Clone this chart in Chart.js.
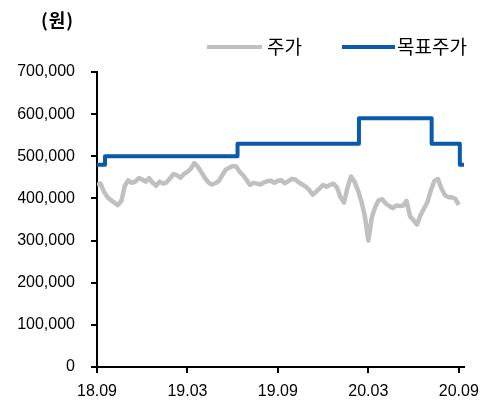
<!DOCTYPE html>
<html>
<head>
<meta charset="utf-8">
<script src="https://cdn.jsdelivr.net/npm/chart.js@4.4.1/dist/chart.umd.min.js"></script>
<style>
  html, body { margin: 0; padding: 0; background: #fff; }
  #wrap { width: 482px; height: 405px; position: relative; }
</style>
</head>
<body>
<div id="wrap"><canvas id="priceChart"></canvas></div>
<script>
// x axis is in weeks from 2018-09
var tickWeeks = [0, 26, 52, 78, 104];
var tickLabels = ["18.09", "19.03", "19.09", "20.03", "20.09"];
var yTicks = [0, 100000, 200000, 300000, 400000, 500000, 600000, 700000];

// 주가, weekly
var prices = [
  432000, 435000, 416000, 403000, 396000, 390000, 384000, 394000, 430000, 443000,
  437000, 440000, 448000, 445000, 440000, 448000, 437000, 430000, 440000, 435000,
  438000, 448000, 458000, 455000, 449000, 458000, 463000, 471000, 484000, 475000,
  462000, 449000, 438000, 433000, 436000, 441000, 455000, 468000, 473000, 477000,
  476000, 463000, 455000, 444000, 432000, 437000, 435000, 433000, 438000, 441000,
  442000, 437000, 442000, 443000, 436000, 441000, 446000, 445000, 438000, 433000,
  428000, 420000, 409000, 416000, 424000, 432000, 428000, 432000, 435000, 426000,
  403000, 390000, 425000, 452000, 440000, 420000, 393000, 358000, 300000, 355000,
  380000, 396000, 398000, 388000, 382000, 377000, 383000, 382000, 383000, 394000,
  357000, 348000, 338000, 360000, 376000, 392000, 420000, 442000, 446000, 424000,
  408000, 403000, 403000, 399000, 385000
];

// 목표주가 (step changes)
var targetWeeks = [0, 2.3, 40.4, 75.3, 96.2, 104.3, 105.3];
var targetValues = [480000, 500000, 530000, 590000, 530000, 480000, 480000];

var FONT = "'Liberation Sans', Arial, sans-serif";
var KFONT = "'Noto Sans CJK KR', 'Liberation Sans', sans-serif";

// unit text and legend drawn by hand so they sit where the original has them
var extras = {
  id: "extras",
  afterDraw: function (chart) {
    var c = chart.ctx;
    var ds = chart.data.datasets;
    var legendPos = [[207, 262, 267], [342, 395, 397]];
    c.save();
    c.fillStyle = "#000";
    c.textBaseline = "middle";
    c.font = "bold 18px " + KFONT;
    c.letterSpacing = "1px";
    c.fillText("(원)", 41, 20);
    c.letterSpacing = "0px";
    c.font = "19px " + KFONT;
    ds.forEach(function (d, i) {
      var p = legendPos[i];
      c.strokeStyle = d.borderColor;
      c.lineWidth = 4;
      c.beginPath();
      c.moveTo(p[0], 47);
      c.lineTo(p[1], 47);
      c.stroke();
      c.fillStyle = "#000";
      c.fillText(d.label, p[2], 47);
    });
    c.restore();
  }
};

var ctx = document.getElementById("priceChart");
var priceChart = new Chart(ctx, {
  type: "line",
  data: {
    datasets: [
      {
        label: "주가",
        data: prices.map(function (v, i) { return { x: i, y: v }; }),
        borderColor: "#c0c0c0",
        backgroundColor: "#c0c0c0",
        borderWidth: 4.5,
        pointRadius: 0,
        tension: 0,
        borderJoinStyle: "round"
      },
      {
        label: "목표주가",
        data: targetWeeks.map(function (w, i) { return { x: w, y: targetValues[i] }; }),
        borderColor: "#0a5aaa",
        backgroundColor: "#0a5aaa",
        borderWidth: 4,
        pointRadius: 0,
        stepped: true,
        borderCapStyle: "round",
        borderJoinStyle: "round"
      }
    ]
  },
  options: {
    responsive: true,
    maintainAspectRatio: false,
    animation: false,
    layout: { padding: { top: 72, left: 18, right: 18, bottom: 0 } },
    plugins: {
      tooltip: { enabled: false },
      legend: { display: false }
    },
    scales: {
      x: {
        type: "linear",
        min: 0,
        max: 105.5,
        afterBuildTicks: function (axis) {
          axis.ticks = tickWeeks.map(function (w) { return { value: w }; });
        },
        afterFit: function (axis) {
          axis.height = 38;
          axis.paddingLeft = 0;
          axis.paddingRight = 0;
        },
        ticks: {
          color: "#000",
          font: { family: FONT, size: 16 },
          padding: 9,
          maxRotation: 0,
          callback: function (value) {
            var k = tickWeeks.indexOf(value);
            return k >= 0 ? tickLabels[k] : "";
          }
        },
        grid: { drawOnChartArea: false, drawTicks: true, tickLength: 6, color: "#000", lineWidth: 2 },
        border: { color: "#000", width: 2 }
      },
      y: {
        min: 0,
        max: 700000,
        afterBuildTicks: function (axis) {
          axis.ticks = yTicks.map(function (v) { return { value: v }; });
        },
        afterFit: function (axis) {
          axis.width = 79;
          axis.paddingTop = 0;
          axis.paddingBottom = 0;
        },
        ticks: {
          color: "#000",
          font: { family: FONT, size: 16 },
          padding: 16,
          callback: function (value) { return value.toLocaleString("en-US"); }
        },
        grid: { drawOnChartArea: false, drawTicks: true, tickLength: 6, color: "#000", lineWidth: 2 },
        border: { color: "#000", width: 2 }
      }
    }
  },
  plugins: [extras]
});
</script>
</body>
</html>
